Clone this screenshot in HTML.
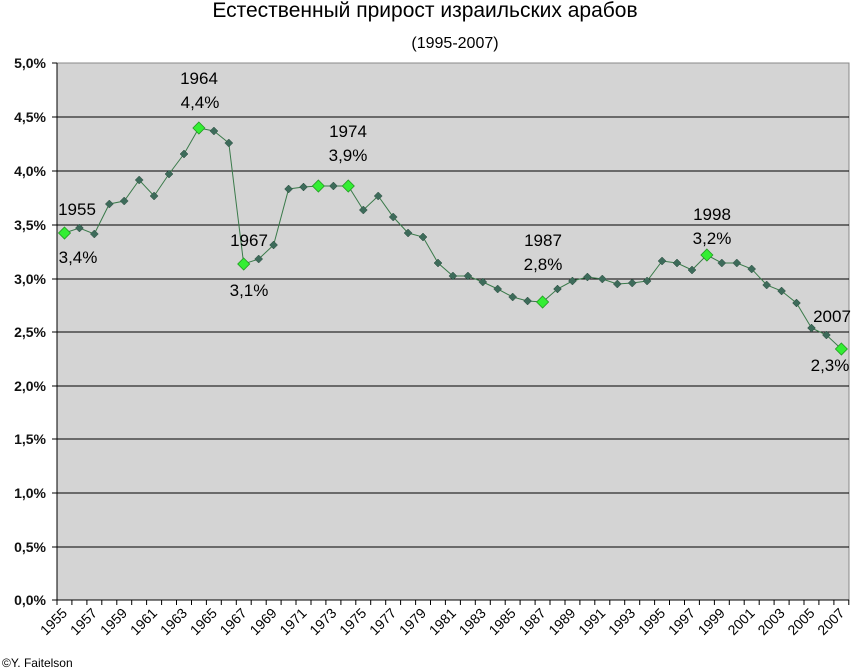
<!DOCTYPE html>
<html><head><meta charset="utf-8"><style>
body{margin:0;background:#fff;}
svg{display:block;font-family:"Liberation Sans",Arial,sans-serif;}
</style></head><body>
<svg width="853" height="671" viewBox="0 0 853 671" xmlns="http://www.w3.org/2000/svg">
<defs>
<path id="d" d="M0,-4L4,0L0,4L-4,0Z" fill="#3d6b5a" stroke="#2a4a3e" stroke-width="0.5"/>
<path id="g" d="M0,-6L6,0L0,6L-6,0Z" fill="#33ee33" stroke="#229922" stroke-width="0.8"/>
</defs>
<text x="425" y="17" font-size="21" text-anchor="middle">Естественный прирост израильских арабов</text>
<text x="455" y="48" font-size="16" text-anchor="middle">(1995-2007)</text>
<rect x="57" y="63" width="792" height="537" fill="#d4d4d4" stroke="#888" stroke-width="1"/>
<g stroke="#000" stroke-width="1">
<line x1="57" y1="117" x2="849" y2="117"/><line x1="57" y1="171" x2="849" y2="171"/>
<line x1="57" y1="225" x2="849" y2="225"/><line x1="57" y1="279" x2="849" y2="279"/>
<line x1="57" y1="332" x2="849" y2="332"/><line x1="57" y1="386" x2="849" y2="386"/>
<line x1="57" y1="439" x2="849" y2="439"/><line x1="57" y1="493" x2="849" y2="493"/>
<line x1="57" y1="547" x2="849" y2="547"/><line x1="57" y1="600" x2="849" y2="600"/>
<line x1="57" y1="63" x2="57" y2="600"/>
<line x1="52" y1="63" x2="57" y2="63"/><line x1="52" y1="117" x2="57" y2="117"/><line x1="52" y1="171" x2="57" y2="171"/><line x1="52" y1="225" x2="57" y2="225"/><line x1="52" y1="279" x2="57" y2="279"/><line x1="52" y1="332" x2="57" y2="332"/><line x1="52" y1="386" x2="57" y2="386"/><line x1="52" y1="439" x2="57" y2="439"/><line x1="52" y1="493" x2="57" y2="493"/><line x1="52" y1="547" x2="57" y2="547"/><line x1="52" y1="600" x2="57" y2="600"/>
</g>
<path stroke="#000" stroke-width="1" d="M57,600v5M71.9,600v5M86.9,600v5M101.8,600v5M116.8,600v5M131.7,600v5M146.6,600v5M161.6,600v5M176.5,600v5M191.5,600v5M206.4,600v5M221.3,600v5M236.3,600v5M251.2,600v5M266.2,600v5M281.1,600v5M296,600v5M311,600v5M325.9,600v5M340.9,600v5M355.8,600v5M370.7,600v5M385.7,600v5M400.6,600v5M415.6,600v5M430.5,600v5M445.4,600v5M460.4,600v5M475.3,600v5M490.3,600v5M505.2,600v5M520.1,600v5M535.1,600v5M550,600v5M565,600v5M579.9,600v5M594.8,600v5M609.8,600v5M624.7,600v5M639.7,600v5M654.6,600v5M669.5,600v5M684.5,600v5M699.4,600v5M714.4,600v5M729.3,600v5M744.2,600v5M759.2,600v5M774.1,600v5M789.1,600v5M804,600v5M818.9,600v5M833.9,600v5M848.8,600v5"/>
<g font-size="14" text-anchor="end" font-weight="bold" fill="#111">
<text x="46" y="68">5,0%</text><text x="46" y="122">4,5%</text><text x="46" y="176">4,0%</text><text x="46" y="230">3,5%</text><text x="46" y="284">3,0%</text><text x="46" y="337">2,5%</text><text x="46" y="391">2,0%</text><text x="46" y="444">1,5%</text><text x="46" y="498">1,0%</text><text x="46" y="552">0,5%</text><text x="46" y="605">0,0%</text>
</g>
<polyline fill="none" stroke="#3a7a4a" stroke-width="1" points="64.5,233 79.4,228 94.3,234 109.3,204 124.2,201 139.2,180 154.1,196 169,174 184,154 198.9,128 213.9,131 228.8,143 243.7,264 258.7,259 273.6,245 288.6,189 303.5,187 318.4,186 333.4,186 348.3,186 363.3,210 378.2,196 393.2,217 408.1,233 423,237 438,263 452.9,276 467.9,276 482.8,282 497.7,289 512.7,297 527.6,301 542.6,302 557.5,289 572.4,281 587.4,277 602.3,279 617.3,284 632.2,283 647.1,281 662.1,261 677,263 692,270 706.9,255 721.8,263 736.8,263 751.7,269 766.7,285 781.6,291 796.5,303 811.5,328 826.4,335 841.4,349"/>
<g>
<use href="#d" x="79.4" y="228"/><use href="#d" x="94.3" y="234"/><use href="#d" x="109.3" y="204"/><use href="#d" x="124.2" y="201"/><use href="#d" x="139.2" y="180"/><use href="#d" x="154.1" y="196"/><use href="#d" x="169" y="174"/><use href="#d" x="184" y="154"/><use href="#d" x="213.9" y="131"/><use href="#d" x="228.8" y="143"/><use href="#d" x="258.7" y="259"/><use href="#d" x="273.6" y="245"/><use href="#d" x="288.6" y="189"/><use href="#d" x="303.5" y="187"/><use href="#d" x="333.4" y="186"/><use href="#d" x="363.3" y="210"/><use href="#d" x="378.2" y="196"/><use href="#d" x="393.2" y="217"/><use href="#d" x="408.1" y="233"/><use href="#d" x="423" y="237"/><use href="#d" x="438" y="263"/><use href="#d" x="452.9" y="276"/><use href="#d" x="467.9" y="276"/><use href="#d" x="482.8" y="282"/><use href="#d" x="497.7" y="289"/><use href="#d" x="512.7" y="297"/><use href="#d" x="527.6" y="301"/><use href="#d" x="557.5" y="289"/><use href="#d" x="572.4" y="281"/><use href="#d" x="587.4" y="277"/><use href="#d" x="602.3" y="279"/><use href="#d" x="617.3" y="284"/><use href="#d" x="632.2" y="283"/><use href="#d" x="647.1" y="281"/><use href="#d" x="662.1" y="261"/><use href="#d" x="677" y="263"/><use href="#d" x="692" y="270"/><use href="#d" x="721.8" y="263"/><use href="#d" x="736.8" y="263"/><use href="#d" x="751.7" y="269"/><use href="#d" x="766.7" y="285"/><use href="#d" x="781.6" y="291"/><use href="#d" x="796.5" y="303"/><use href="#d" x="811.5" y="328"/><use href="#d" x="826.4" y="335"/>
<use href="#g" x="64.5" y="233"/><use href="#g" x="198.9" y="128"/><use href="#g" x="243.7" y="264"/><use href="#g" x="318.4" y="186"/><use href="#g" x="348.3" y="186"/><use href="#g" x="542.6" y="302"/><use href="#g" x="706.9" y="255"/><use href="#g" x="841.4" y="349"/>
</g>
<g font-size="17" text-anchor="middle">
<text x="77" y="215">1955</text><text x="78" y="263">3,4%</text>
<text x="199" y="84">1964</text><text x="200" y="108">4,4%</text>
<text x="249" y="246">1967</text><text x="249" y="296">3,1%</text>
<text x="348" y="137">1974</text><text x="348" y="161">3,9%</text>
<text x="543" y="246">1987</text><text x="543" y="270">2,8%</text>
<text x="712" y="220">1998</text><text x="712" y="244">3,2%</text>
<text x="832" y="322">2007</text><text x="830" y="371">2,3%</text>
</g>
<g font-size="14" text-anchor="end">
<text transform="translate(68,614) rotate(-45)">1955</text><text transform="translate(98,614) rotate(-45)">1957</text><text transform="translate(128,614) rotate(-45)">1959</text><text transform="translate(158,614) rotate(-45)">1961</text><text transform="translate(188,614) rotate(-45)">1963</text><text transform="translate(217.9,614) rotate(-45)">1965</text><text transform="translate(247.7,614) rotate(-45)">1967</text><text transform="translate(277.6,614) rotate(-45)">1969</text><text transform="translate(307.5,614) rotate(-45)">1971</text><text transform="translate(337.4,614) rotate(-45)">1973</text><text transform="translate(367.3,614) rotate(-45)">1975</text><text transform="translate(397.2,614) rotate(-45)">1977</text><text transform="translate(427,614) rotate(-45)">1979</text><text transform="translate(456.9,614) rotate(-45)">1981</text><text transform="translate(486.8,614) rotate(-45)">1983</text><text transform="translate(516.7,614) rotate(-45)">1985</text><text transform="translate(546.6,614) rotate(-45)">1987</text><text transform="translate(576.4,614) rotate(-45)">1989</text><text transform="translate(606.3,614) rotate(-45)">1991</text><text transform="translate(636.2,614) rotate(-45)">1993</text><text transform="translate(666.1,614) rotate(-45)">1995</text><text transform="translate(696,614) rotate(-45)">1997</text><text transform="translate(725.8,614) rotate(-45)">1999</text><text transform="translate(755.7,614) rotate(-45)">2001</text><text transform="translate(785.6,614) rotate(-45)">2003</text><text transform="translate(815.5,614) rotate(-45)">2005</text><text transform="translate(845.4,614) rotate(-45)">2007</text>
</g>
<text x="2" y="667" font-size="12">©Y. Faitelson</text>
</svg>
</body></html>
